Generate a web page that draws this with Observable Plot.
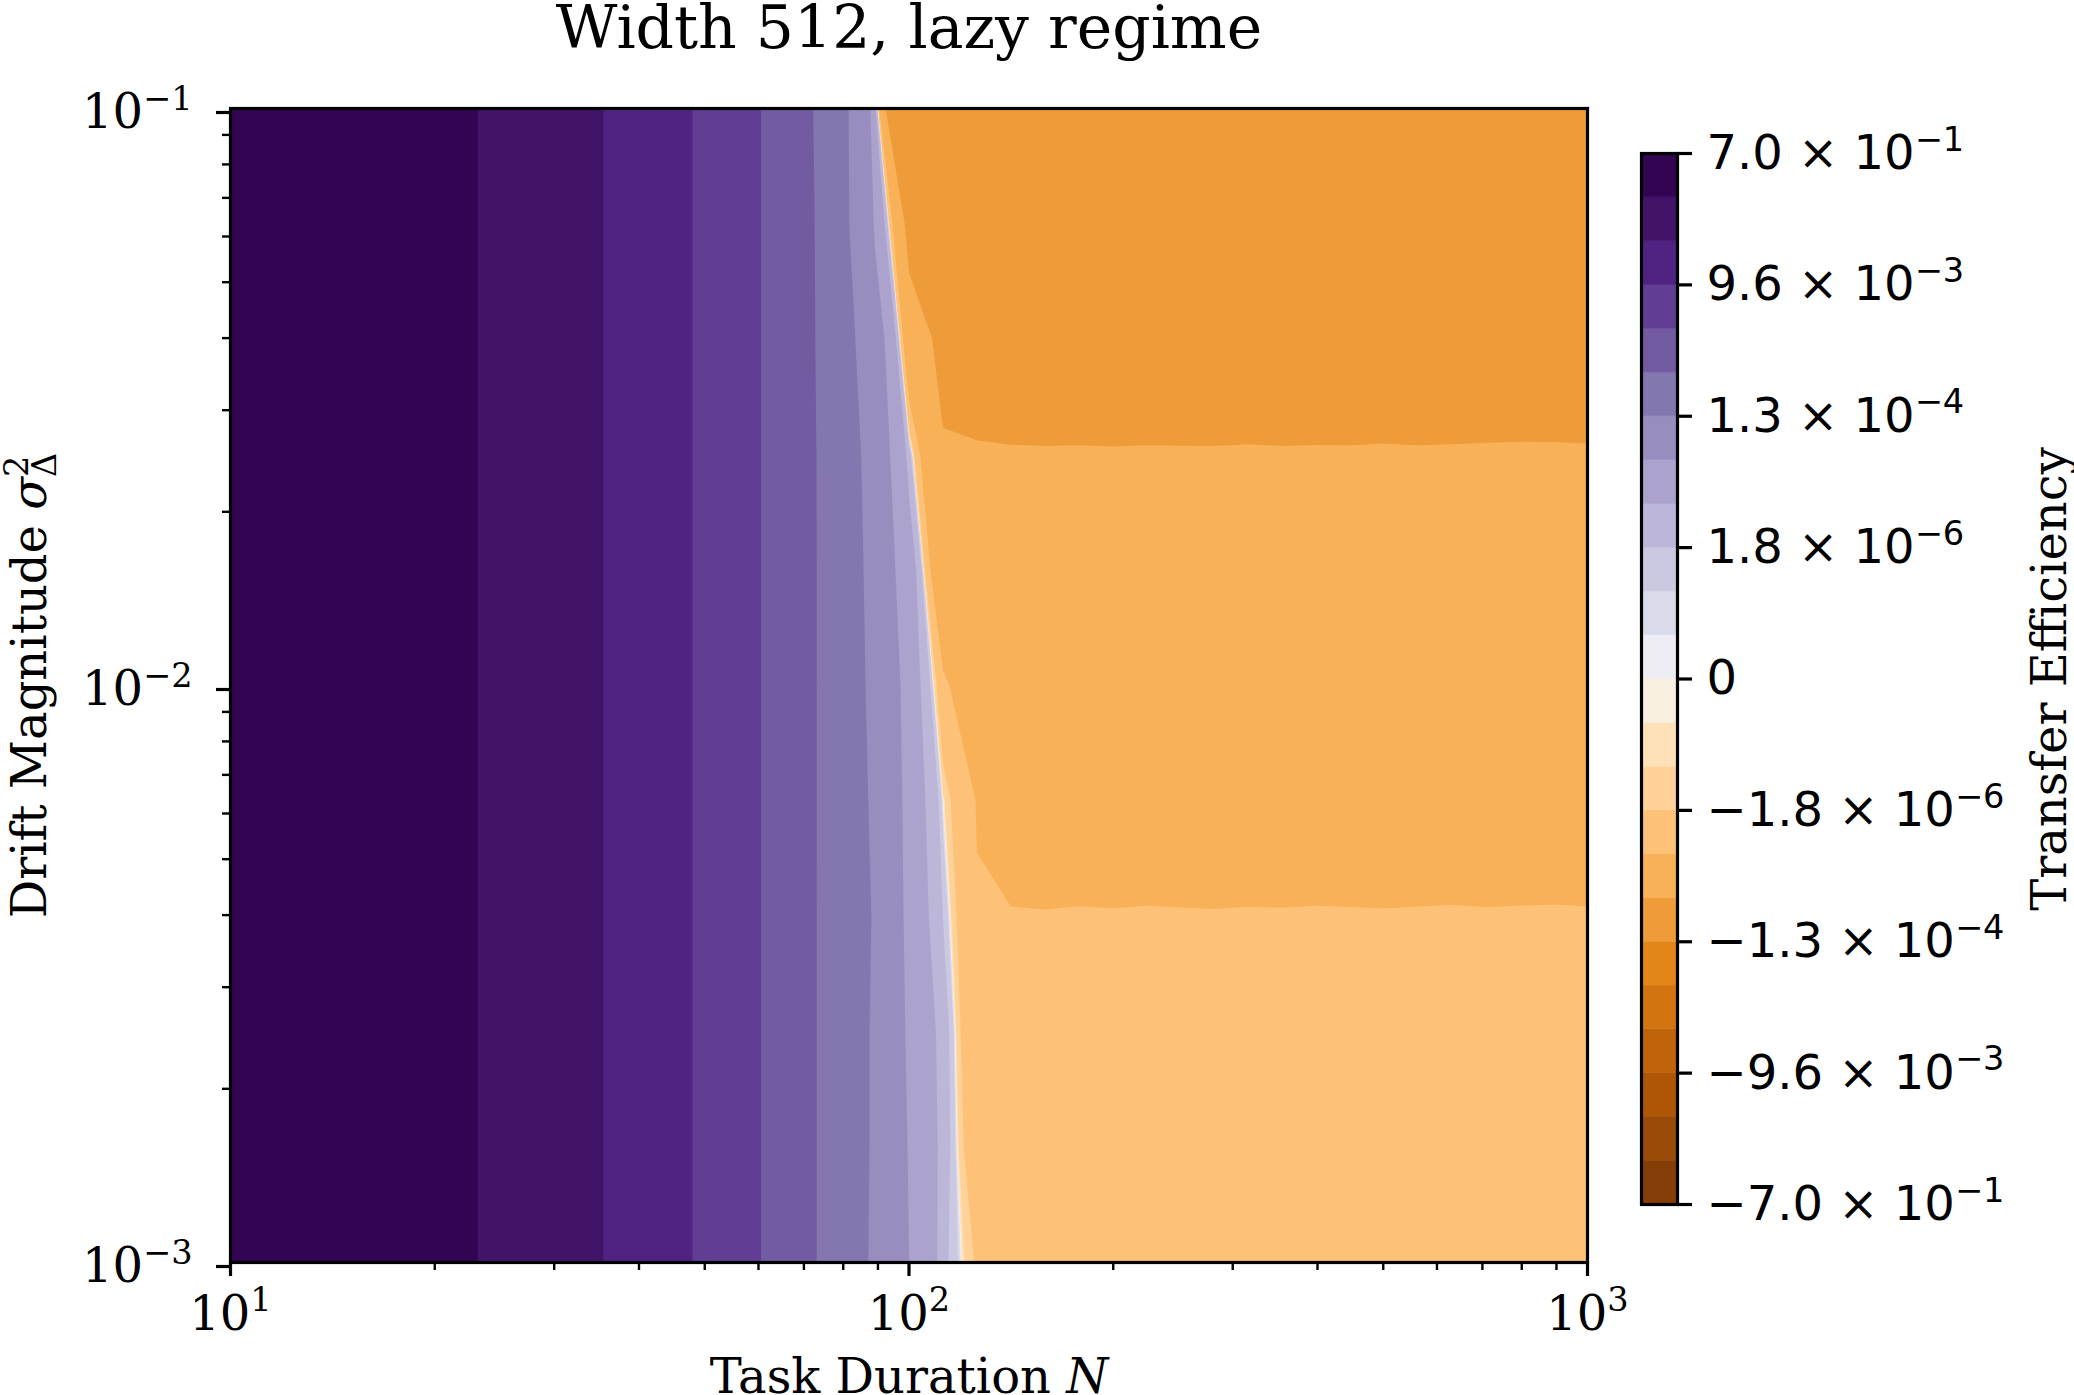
<!DOCTYPE html>
<html><head><meta charset="utf-8">
<script src="https://cdn.jsdelivr.net/npm/d3@7"></script>
<script src="https://cdn.jsdelivr.net/npm/@observablehq/plot@0.6"></script>
<style>
html,body{margin:0;padding:0;background:#fff;overflow:hidden;}
#chart{position:relative;width:2074px;height:1395px;}
#chart svg{position:absolute;left:0;top:0;max-width:none !important;}
</style></head><body><div id="chart"></div>
<script>
// ---------------- data ----------------
const taskDurations = [10, 11.22, 12.59, 14.13, 15.85, 17.78, 19.95, 22.39, 25.12, 28.18, 31.62, 35.48, 39.81, 44.67, 50.12, 56.23, 63.1, 70.79, 79.43, 89.13, 100, 112.2, 125.9, 141.3, 158.5, 177.8, 199.5, 223.9, 251.2, 281.8, 316.2, 354.8, 398.1, 446.7, 501.2, 562.3, 631, 707.9, 794.3, 891.3, 1000];
const driftMagnitudes = [0.001, 0.001585, 0.002512, 0.003981, 0.00631, 0.01, 0.01585, 0.02512, 0.03981, 0.0631, 0.1];
// efficiency for N = 10 ... 63.1 (same for every drift)
const earlyEfficiency = [0.698, 0.634, 0.544, 0.458, 0.378, 0.304, 0.239, 0.1815, 0.1337, 0.0949, 0.0646, 0.0400, 0.0258, 0.0140, 6.9e-3, 3.8e-3, 1.46e-3];
// efficiency for N = 70.8 ... 1000, one row per drift magnitude
const lateEfficiency = [
  [6.875e-4, 2.0e-4, 1.15e-4, 3.2e-5, 2.6e-6, -2.2e-6, -3.3e-6, -3.8e-6, -3.88e-6, -3.92e-6, -3.90e-6, -3.89e-6, -3.91e-6, -3.90e-6, -3.88e-6, -3.92e-6, -3.90e-6, -3.91e-6, -3.89e-6, -3.90e-6, -3.92e-6, -3.88e-6, -3.90e-6, -3.91e-6],
  [6.7e-4, 2.45e-4, 1.1e-4, 2.8e-5, 3.84e-6, -5.4e-6, -5.0e-6, -4.9e-6, -4.85e-6, -4.82e-6, -4.86e-6, -4.84e-6, -4.83e-6, -4.87e-6, -4.84e-6, -4.82e-6, -4.85e-6, -4.86e-6, -4.83e-6, -4.84e-6, -4.85e-6, -4.82e-6, -4.86e-6, -4.84e-6],
  [6.7e-4, 2.45e-4, 1.1e-4, 2.2e-5, 3.86e-6, -7.0e-6, -6.3e-6, -6.05e-6, -6.00e-6, -6.05e-6, -5.98e-6, -6.02e-6, -6.00e-6, -6.04e-6, -5.97e-6, -6.01e-6, -6.03e-6, -5.99e-6, -6.02e-6, -6.00e-6, -6.05e-6, -5.98e-6, -6.01e-6, -6.00e-6],
  [6.6e-4, 2.7e-4, 1.15e-4, 1.567e-5, 1.8e-6, -7.2e-6, -7.35e-6, -7.4e-6, -7.30e-6, -7.36e-6, -7.28e-6, -7.33e-6, -7.38e-6, -7.30e-6, -7.34e-6, -7.27e-6, -7.32e-6, -7.36e-6, -7.30e-6, -7.26e-6, -7.31e-6, -7.28e-6, -7.24e-6, -7.30e-6],
  [6.64e-4, 2.6e-4, 1.0e-4, 1.473e-5, -2e-8, -7.88e-6, -1.0e-5, -1.05e-5, -1.050e-5, -1.060e-5, -1.055e-5, -1.060e-5, -1.050e-5, -1.065e-5, -1.055e-5, -1.060e-5, -1.050e-5, -1.060e-5, -1.055e-5, -1.050e-5, -1.060e-5, -1.055e-5, -1.050e-5, -1.060e-5],
  [6.65e-4, 2.57e-4, 8.34e-5, 1.434e-5, -5.58e-6, -1.6e-5, -1.53e-5, -1.52e-5, -1.51e-5, -1.52e-5, -1.50e-5, -1.51e-5, -1.53e-5, -1.51e-5, -1.52e-5, -1.50e-5, -1.51e-5, -1.52e-5, -1.51e-5, -1.50e-5, -1.52e-5, -1.51e-5, -1.53e-5, -1.51e-5],
  [6.57e-4, 2.79e-4, 5.63e-5, 1.514e-5, -2.09e-5, -2.14e-5, -2.16e-5, -2.16e-5, -2.15e-5, -2.17e-5, -2.16e-5, -2.15e-5, -2.18e-5, -2.16e-5, -2.15e-5, -2.17e-5, -2.16e-5, -2.14e-5, -2.16e-5, -2.17e-5, -2.15e-5, -2.16e-5, -2.18e-5, -2.15e-5],
  [6.65e-4, 2.44e-4, 5.4e-5, 3.5e-6, -3.0e-5, -3.03e-5, -3.05e-5, -3.06e-5, -3.05e-5, -3.06e-5, -3.04e-5, -3.05e-5, -3.06e-5, -3.03e-5, -3.05e-5, -3.04e-5, -3.05e-5, -3.02e-5, -3.04e-5, -3.03e-5, -3.01e-5, -3.00e-5, -2.99e-5, -3.02e-5],
  [6.65e-4, 1.9e-4, 5.14e-5, -2.0e-5, -3.7e-5, -4.1e-5, -4.35e-5, -4.45e-5, -4.45e-5, -4.50e-5, -4.55e-5, -4.50e-5, -4.45e-5, -4.50e-5, -4.55e-5, -4.50e-5, -4.45e-5, -4.50e-5, -4.55e-5, -4.50e-5, -4.50e-5, -4.45e-5, -4.55e-5, -4.50e-5],
  [6.6e-4, 1.655e-4, 2.61e-5, -4.0e-5, -5.7e-5, -6.2e-5, -6.45e-5, -6.5e-5, -6.50e-5, -6.60e-5, -6.55e-5, -6.60e-5, -6.50e-5, -6.60e-5, -6.55e-5, -6.50e-5, -6.60e-5, -6.55e-5, -6.60e-5, -6.50e-5, -6.55e-5, -6.60e-5, -6.50e-5, -6.55e-5],
  [6.35e-4, 1.665e-4, 9.6e-6, -1.23e-4, -1.04e-4, -9.8e-5, -9.6e-5, -9.5e-5, -9.50e-5, -9.60e-5, -9.40e-5, -9.70e-5, -9.55e-5, -9.45e-5, -9.65e-5, -9.60e-5, -9.50e-5, -9.70e-5, -9.55e-5, -9.40e-5, -9.60e-5, -9.50e-5, -9.65e-5, -9.55e-5]
];
// contour level magnitudes (geometric), largest first
const levelMagnitudes = [0.7, 0.16764, 0.040149, 0.0096154, 2.3028e-3, 5.5151e-4, 1.3208e-4, 3.1633e-5, 7.5759e-6, 1.8144e-6, 4.3453e-7, 1.0407e-7];
const colorbarTicks = [0, 3, 6, 9, 12, 15, 18, 21, 24];
const colorbarTickLabels = ["−7.0 × 10^−1", "−9.6 × 10^−3", "−1.3 × 10^−4", "−1.8 × 10^−6", "0", "1.8 × 10^−6", "1.3 × 10^−4", "9.6 × 10^−3", "7.0 × 10^−1"];
const xMajorExponents = [1, 2, 3];
const xTickLabels = ["10^1", "10^2", "10^3"];
const yMajorExponents = [-3, -2, -1];
const yTickLabels = ["10^−3", "10^−2", "10^−1"];
const titleText = "Width 512, lazy regime";
const xTitle = "Task Duration N";
const yTitle = "Drift Magnitude σ2Δ";
const colorbarTitle = "Transfer Efficiency";

// ---------------- derived ----------------
const levels = [...levelMagnitudes.map(v => -v), 0, ...levelMagnitudes.slice().reverse()];
const nx = taskDurations.length, ny = driftMagnitudes.length;
const grid = [];
driftMagnitudes.forEach((s, r) => { grid.push(...earlyEfficiency, ...lateEfficiency[r]); });
const lx0 = Math.log10(taskDurations[0]), lx1 = Math.log10(taskDurations[nx - 1]);
const ly0 = Math.log10(driftMagnitudes[0]), ly1 = Math.log10(driftMagnitudes[ny - 1]);
const hx = (lx1 - lx0) / (nx - 1), hy = (ly1 - ly0) / (ny - 1);

// matplotlib PuOr, symlog-normalised layer midpoints
const puor = ["#7f3b08","#b35806","#e08214","#fdb863","#fee0b6","#f7f7f7","#d8daeb","#b2abd2","#8073ac","#542788","#2d004b"];
const puorInterp = d3.piecewise(d3.interpolateRgb, puor);
const linthresh = levelMagnitudes[levelMagnitudes.length - 1];
const linscale = 1 / (1 - 1 / 10);
const symlog = v => Math.abs(v) <= linthresh ? v * linscale : Math.sign(v) * linthresh * (linscale + Math.log10(Math.abs(v) / linthresh));
const vmax = levelMagnitudes[0];
const tOf = v => (symlog(v) - symlog(-vmax)) / (symlog(vmax) - symlog(-vmax));
const segColors = d3.range(24).map(k => {
  const m = (levels[k] + levels[k + 1]) / 2;
  const idx = Math.max(0, Math.min(255, Math.floor(tOf(m) * 256)));
  return puorInterp(idx / 255);
});

const minorX = [], minorY = [];
for (let e = 1; e < 3; e++) for (let k = 2; k <= 9; k++) minorX.push(e + Math.log10(k));
for (let e = -3; e < -1; e++) for (let k = 2; k <= 9; k++) minorY.push(e + Math.log10(k));
const xLabelMap = new Map(xMajorExponents.map((d, i) => [d, xTickLabels[i]]));
const yLabelMap = new Map(yMajorExponents.map((d, i) => [d, yTickLabels[i]]));
const cbLabelMap = new Map(colorbarTicks.map((d, i) => [d, colorbarTickLabels[i]]));

const W = 2074, H = 1395;
const F = {left: 230, right: 1587, top: 108, bottom: 1262};
const CB = {left: 1641, right: 1677, top: 153, bottom: 1204};

const main = Plot.plot({
  width: W, height: H,
  marginLeft: F.left, marginRight: W - F.right, marginTop: F.top, marginBottom: H - F.bottom,
  style: {background: "white", color: "black", fontFamily: "DejaVu Serif", fontSize: "48px", overflow: "visible"},
  x: {domain: [1, 3]},
  y: {domain: [-3, -1]},
  color: {type: "threshold", domain: levels.slice(1, 24), range: segColors},
  marks: [
    Plot.contour(grid, {
      width: nx, height: ny,
      x1: lx0 - hx / 2, x2: lx1 + hx / 2, y1: ly0 - hy / 2, y2: ly1 + hy / 2,
      fill: Plot.identity, stroke: "none",
      thresholds: levels.slice(0, 24), clip: true
    }),
    Plot.frame({stroke: "black", strokeWidth: 3.2}),
    Plot.axisX({ticks: minorX, tickSize: 8, strokeWidth: 2.4, tickFormat: () => "", label: null}),
    Plot.axisX({ticks: xMajorExponents, tickSize: 14, strokeWidth: 3.2, tickPadding: 19, tickFormat: d => xLabelMap.get(d), fontSize: 48, label: null}),
    Plot.axisY({ticks: minorY, tickSize: 8, strokeWidth: 2.4, tickFormat: () => "", label: null}),
    Plot.axisY({ticks: yMajorExponents, tickSize: 14, strokeWidth: 3.2, tickPadding: 24, dy: 4, tickFormat: d => yLabelMap.get(d), fontSize: 48, label: null}),
    Plot.text([titleText], {text: d => d, frameAnchor: "top", textAnchor: "middle", dy: -61, lineAnchor: "bottom", fontSize: 60}),
    Plot.text([xTitle], {text: d => d, frameAnchor: "bottom", textAnchor: "middle", dy: 130, lineAnchor: "bottom", fontSize: 48}),
    Plot.text([yTitle], {text: d => d, frameAnchor: "left", textAnchor: "middle", dx: 45 - F.left, rotate: -90, lineAnchor: "bottom", fontSize: 48})
  ]
});

const cbar = Plot.plot({
  width: W, height: H,
  marginLeft: CB.left, marginRight: W - CB.right, marginTop: CB.top, marginBottom: H - CB.bottom,
  style: {background: "transparent", color: "black", fontFamily: "DejaVu Sans", fontSize: "48px", overflow: "visible"},
  x: {domain: [0, 1], axis: null},
  y: {domain: [0, 24]},
  marks: [
    Plot.rect(d3.range(24), {x1: 0, x2: 1, y1: d => d, y2: d => d + 1, fill: d => segColors[d], stroke: d => segColors[d], strokeWidth: 0.6}),
    Plot.frame({stroke: "black", strokeWidth: 3.2}),
    Plot.axisY({anchor: "right", ticks: colorbarTicks, tickFormat: d => cbLabelMap.get(d), tickSize: 14, tickPadding: 15, strokeWidth: 3.2, fontSize: 48, fontFamily: "DejaVu Sans", label: null}),
    Plot.text([colorbarTitle], {text: d => d, frameAnchor: "right", textAnchor: "middle", dx: 2065 - CB.right, rotate: -90, lineAnchor: "bottom", fontSize: 48, fontFamily: "DejaVu Serif"})
  ]
});

const NS = "http://www.w3.org/2000/svg";
function superscripts(svg, fs) {
  svg.querySelectorAll("text").forEach(t => {
    const s = t.textContent, i = s.indexOf("^");
    if (i < 0) return;
    t.textContent = s.slice(0, i);
    const sup = document.createElementNS(NS, "tspan");
    sup.setAttribute("font-size", 0.7 * fs);
    sup.setAttribute("dy", -0.38 * fs);
    sup.textContent = s.slice(i + 1);
    t.appendChild(sup);
  });
}
function rich(svg, plain, parts) {
  svg.querySelectorAll("text").forEach(t => {
    if (t.textContent !== plain) return;
    t.textContent = "";
    for (const p of parts) {
      const s = document.createElementNS(NS, "tspan");
      s.textContent = p.text;
      if (p.italic) s.setAttribute("font-style", "italic");
      if (p.size) s.setAttribute("font-size", p.size);
      if (p.dx) s.setAttribute("dx", p.dx);
      if (p.dy) s.setAttribute("dy", p.dy);
      t.appendChild(s);
    }
  });
}
superscripts(main, 48);
superscripts(cbar, 48);
rich(main, xTitle, [{text: "Task Duration "}, {text: "N", italic: true}]);
rich(main, yTitle, [{text: "Drift Magnitude "}, {text: "σ", italic: true}, {text: "2", size: 33.6, dy: -18}, {text: "Δ", size: 33.6, dx: -21.4, dy: 28.5}]);

const host = document.getElementById("chart");
host.appendChild(main);
host.appendChild(cbar);
</script></body></html>
